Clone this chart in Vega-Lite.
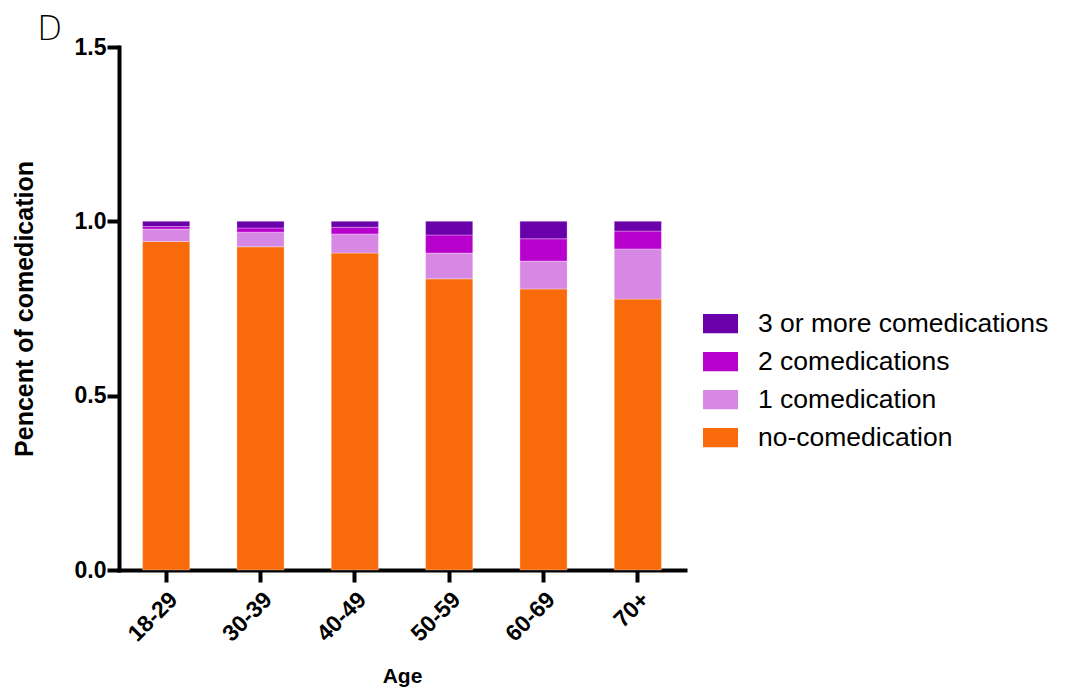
{
  "$schema": "https://vega.github.io/schema/vega-lite/v6.json",
  "autosize": "none",
  "width": 566,
  "height": 523,
  "padding": {"left": 119, "top": 47, "right": 392, "bottom": 123},
  "background": "white",
  "title": {
    "text": "D",
    "anchor": "start",
    "frame": "group",
    "orient": "top",
    "font": "DejaVu Sans",
    "fontWeight": 200,
    "fontSize": 33,
    "color": "#000000",
    "dx": -82,
    "dy": 17,
    "offset": 6
  },
  "data": {
    "values": [
      {"age": "18-29", "group": "no-comedication", "rank": 1, "value": 0.942},
      {"age": "18-29", "group": "1 comedication", "rank": 2, "value": 0.036},
      {"age": "18-29", "group": "2 comedications", "rank": 3, "value": 0.007},
      {"age": "18-29", "group": "3 or more comedications", "rank": 4, "value": 0.015},
      {"age": "30-39", "group": "no-comedication", "rank": 1, "value": 0.927},
      {"age": "30-39", "group": "1 comedication", "rank": 2, "value": 0.042},
      {"age": "30-39", "group": "2 comedications", "rank": 3, "value": 0.012},
      {"age": "30-39", "group": "3 or more comedications", "rank": 4, "value": 0.019},
      {"age": "40-49", "group": "no-comedication", "rank": 1, "value": 0.909},
      {"age": "40-49", "group": "1 comedication", "rank": 2, "value": 0.055},
      {"age": "40-49", "group": "2 comedications", "rank": 3, "value": 0.019},
      {"age": "40-49", "group": "3 or more comedications", "rank": 4, "value": 0.017},
      {"age": "50-59", "group": "no-comedication", "rank": 1, "value": 0.835},
      {"age": "50-59", "group": "1 comedication", "rank": 2, "value": 0.074},
      {"age": "50-59", "group": "2 comedications", "rank": 3, "value": 0.052},
      {"age": "50-59", "group": "3 or more comedications", "rank": 4, "value": 0.039},
      {"age": "60-69", "group": "no-comedication", "rank": 1, "value": 0.806},
      {"age": "60-69", "group": "1 comedication", "rank": 2, "value": 0.080},
      {"age": "60-69", "group": "2 comedications", "rank": 3, "value": 0.064},
      {"age": "60-69", "group": "3 or more comedications", "rank": 4, "value": 0.050},
      {"age": "70+", "group": "no-comedication", "rank": 1, "value": 0.777},
      {"age": "70+", "group": "1 comedication", "rank": 2, "value": 0.144},
      {"age": "70+", "group": "2 comedications", "rank": 3, "value": 0.051},
      {"age": "70+", "group": "3 or more comedications", "rank": 4, "value": 0.028}
    ]
  },
  "mark": {"type": "bar", "stroke": "white", "strokeWidth": 0.6, "strokeOpacity": 0.5},
  "encoding": {
    "x": {
      "field": "age",
      "type": "nominal",
      "sort": ["18-29", "30-39", "40-49", "50-59", "60-69", "70+"],
      "scale": {"paddingInner": 0.5, "paddingOuter": 0.25},
      "axis": {
        "title": "Age",
        "titleFont": "Liberation Sans",
        "titleFontSize": 21,
        "titleFontWeight": "bold",
        "titleColor": "#000000",
        "titlePadding": 20,
        "labelFont": "Liberation Sans",
        "labelFontSize": 23,
        "labelFontWeight": "bold",
        "labelColor": "#000000",
        "labelAngle": -45,
        "labelAlign": "right",
        "labelBaseline": "top",
        "labelPadding": 6,
        "domainColor": "#000000",
        "domainWidth": 4,
        "tickColor": "#000000",
        "tickWidth": 4,
        "tickSize": 12,
        "grid": false
      }
    },
    "y": {
      "field": "value",
      "type": "quantitative",
      "stack": "zero",
      "scale": {"domain": [0, 1.5], "nice": false},
      "axis": {
        "title": "Pencent of comedication",
        "titleFont": "Liberation Sans",
        "titleFontSize": 25,
        "titleFontWeight": "bold",
        "titleColor": "#000000",
        "titlePadding": 37,
        "values": [0, 0.5, 1, 1.5],
        "format": ".1f",
        "labelFont": "Liberation Sans",
        "labelFontSize": 23,
        "labelFontWeight": "bold",
        "labelColor": "#000000",
        "labelPadding": 1,
        "domainColor": "#000000",
        "domainWidth": 4,
        "tickColor": "#000000",
        "tickWidth": 4,
        "tickSize": 12,
        "grid": false
      }
    },
    "color": {
      "field": "group",
      "type": "nominal",
      "scale": {
        "domain": ["3 or more comedications", "2 comedications", "1 comedication", "no-comedication"],
        "range": ["#6A00AA", "#B800CC", "#D688E4", "#F86A0A"]
      },
      "legend": {
        "title": null,
        "orient": "none",
        "legendX": 584,
        "legendY": 259,
        "symbolType": "M-1,-0.55H1V0.55H-1Z",
        "symbolSize": 1225,
        "symbolStrokeWidth": 0,
        "symbolOpacity": 1,
        "labelFont": "Liberation Sans",
        "labelFontSize": 26.5,
        "labelColor": "#000000",
        "labelLimit": 500,
        "labelOffset": 20,
        "rowPadding": 7
      }
    },
    "order": {"field": "rank", "type": "quantitative"}
  },
  "config": {
    "view": {"stroke": null},
    "axis": {"domainCap": "square"}
  }
}
